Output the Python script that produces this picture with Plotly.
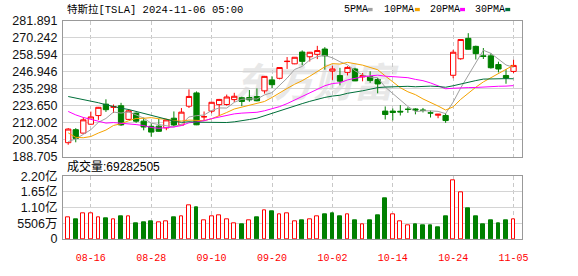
import plotly.graph_objects as go
import pandas as pd

# ---------------- data ----------------
dates = ["08-13", "08-14", "08-15", "08-16", "08-19", "08-20", "08-21", "08-22", "08-23",
         "08-26", "08-27", "08-28", "08-29", "08-30",
         "09-03", "09-04", "09-05", "09-06", "09-09", "09-10", "09-11", "09-12", "09-13",
         "09-16", "09-17", "09-18", "09-19", "09-20", "09-23", "09-24", "09-25", "09-26",
         "09-27", "09-30",
         "10-01", "10-02", "10-03", "10-04", "10-07", "10-08", "10-09", "10-10", "10-11",
         "10-14", "10-15", "10-16", "10-17", "10-18", "10-21", "10-22", "10-23", "10-24",
         "10-25", "10-28", "10-29", "10-30", "10-31",
         "11-01", "11-04", "11-05"]

opens = [198.47, 207.39, 205.02, 211.15, 217.07, 224.88, 222.67, 223.82, 214.46,
         218.75, 213.25, 209.72, 209.80, 208.63,
         215.26, 210.59, 223.49, 232.60, 216.20, 220.07, 224.55, 224.66, 228.00,
         229.30, 229.45, 230.09, 234.00, 241.52, 242.61, 254.08, 252.54, 260.60,
         257.38, 259.04,
         262.67, 247.55, 244.48, 246.69, 249.00, 243.56, 243.82, 241.81, 220.13,
         220.13, 220.01, 221.40, 221.59, 220.71, 218.90, 217.31, 217.13, 244.68,
         256.01, 270.00, 264.51, 258.04, 257.99,
         252.04, 244.56, 247.34]

highs = [208.49, 208.44, 215.88, 219.80, 222.98, 228.22, 224.66, 225.79, 221.48,
         219.09, 215.66, 211.84, 214.89, 214.57,
         219.90, 222.22, 235.00, 233.60, 219.87, 226.40, 228.47, 231.45, 232.67,
         229.96, 234.57, 235.68, 244.24, 243.99, 250.00, 257.19, 257.05, 261.75,
         260.70, 264.86,
         263.98, 251.16, 249.79, 250.96, 249.83, 246.21, 247.43, 242.79, 223.34,
         221.91, 224.26, 222.82, 222.08, 222.28, 220.48, 218.22, 218.72, 262.12,
         269.49, 273.54, 264.98, 263.35, 259.75,
         254.00, 248.90, 255.28]

lows = [197.06, 198.75, 204.82, 210.80, 214.09, 219.56, 218.86, 210.02, 214.21,
        212.11, 206.94, 202.59, 205.97, 207.03,
        209.64, 210.57, 222.25, 210.51, 213.67, 218.64, 216.80, 223.83, 226.32,
        223.53, 226.55, 226.88, 232.13, 235.92, 241.92, 249.05, 252.28, 251.53,
        254.12, 255.77,
        248.53, 241.50, 237.81, 244.58, 240.70, 240.56, 239.51, 232.34, 214.38,
        213.74, 217.12, 218.93, 217.90, 219.23, 215.73, 215.26, 212.11, 242.65,
        255.32, 262.24, 255.51, 255.82, 249.25,
        246.63, 238.88, 246.21]

closes = [207.83, 201.38, 214.14, 216.12, 222.72, 221.10, 223.27, 210.66, 220.32,
          213.21, 209.21, 205.75, 206.28, 214.11,
          210.60, 219.41, 230.17, 210.73, 216.27, 226.17, 228.13, 229.81, 230.29,
          226.78, 227.87, 227.20, 243.92, 238.25, 250.00, 254.27, 257.02, 254.22,
          260.46, 261.63,
          258.02, 249.02, 240.66, 250.08, 240.83, 244.50, 241.05, 238.77, 217.80,
          219.16, 219.57, 221.33, 220.89, 220.70, 218.85, 217.97, 213.65, 260.48,
          269.19, 262.51, 259.52, 257.55, 249.85,
          248.98, 242.84, 251.44]

# closes of the 29 sessions before 08-13 (needed for the moving averages)
prior_closes = [231.26, 246.39, 251.52, 252.94, 262.33, 263.26, 241.03, 248.23, 252.64,
                256.56, 248.50, 249.23, 239.20, 251.51, 246.38, 215.99, 220.25, 219.80,
                232.10, 222.62, 232.07, 216.86, 207.67, 198.88, 200.64, 191.76, 198.84,
                200.00, 197.49]

volumes = [76e6, 69e6, 89e6, 89e6, 76e6, 73e6, 69e6, 79e6, 79e6,
           56e6, 60e6, 63e6, 59e6, 63e6,
           76e6, 79e6, 118e6, 112e6, 66e6, 79e6, 82e6, 69e6, 55e6,
           53e6, 66e6, 76e6, 102e6, 99e6, 86e6, 89e6, 63e6, 66e6,
           69e6, 79e6,
           86e6, 92e6, 79e6, 86e6, 66e6, 53e6, 66e6, 82e6, 144e6,
           86e6, 62e6, 47e6, 50e6, 47e6, 47e6, 40e6, 79e6, 206e6,
           165e6, 108e6, 79e6, 53e6, 66e6,
           56e6, 66e6, 69282505]

tick_labels = ["08-16", "08-28", "09-10", "09-20", "10-02", "10-14", "10-24", "11-05"]
price_ticks = [188.705, 200.354, 212.002, 223.650, 235.298, 246.946, 258.594, 270.242, 281.891]
price_tick_text = ["188.705", "200.354", "212.002", "223.650", "235.298", "246.946",
                   "258.594", "270.242", "281.891"]
vol_ticks = [0, 55.06e6, 110.12e6, 165.18e6, 220.24e6]
vol_tick_text = ["0", "5506万", "1.10亿", "1.65亿", "2.20亿"]

ma_periods = [5, 10, 20, 30]
ma_names = ["5PMA", "10PMA", "20PMA", "30PMA"]
ma_colors = ["#a0a0a0", "#f5a300", "#ff00ff", "#006f3a"]

title_text = "特斯拉[TSLA] 2024-11-06 05:00"
vol_title = "成交量:69282505"

# ---------------- build ----------------
n = len(dates)
xs = list(range(n))
all_closes = pd.Series(prior_closes + closes)

RED = "#ff0000"
GREEN = "#008000"
GRID = "#d4d4d4"
BORDER = "#999999"

fig = go.Figure()

fig.add_trace(go.Candlestick(
    x=xs, open=opens, high=highs, low=lows, close=closes,
    xaxis="x2", yaxis="y",
    increasing=dict(line=dict(color=RED, width=1), fillcolor="#ffffff"),
    decreasing=dict(line=dict(color=GREEN, width=1), fillcolor=GREEN),
    whiskerwidth=0, showlegend=False, hoverinfo="skip",
))

for p, name, col in zip(ma_periods, ma_names, ma_colors):
    ma = all_closes.rolling(p).mean().iloc[-n:].tolist()
    fig.add_trace(go.Scatter(x=xs, y=ma, mode="lines", name=name,
                             line=dict(color=col, width=1), xaxis="x2", yaxis="y",
                             showlegend=False, hoverinfo="skip"))

prev = [prior_closes[-1]] + closes[:-1]
up = [c >= pc for c, pc in zip(closes, prev)]
fig.add_trace(go.Bar(
    x=xs, y=volumes, xaxis="x", yaxis="y2", width=0.5,
    marker=dict(color=["#ffffff" if u else GREEN for u in up],
                line=dict(color=[RED if u else GREEN for u in up], width=1)),
    showlegend=False, hoverinfo="skip",
))

W, H = 578, 276
ML, MR, MT, MB = 55, 56, 21, 22
PW, PH = W - ML - MR, H - MT - MB


def px(x):
    return (x - ML) / PW


def py(y):
    return (H - MB - y) / PH


tick_idx = [dates.index(t) for t in tick_labels]
xrange = [-0.69, 60.12]

common_x = dict(range=xrange, tickvals=tick_idx, showgrid=True, gridcolor="#c8c8c8",
                griddash="4px,3px", gridwidth=1, zeroline=False, showline=True,
                linecolor=BORDER, linewidth=1, mirror=True, ticks="",
                rangeslider=dict(visible=False), fixedrange=True)

fig.update_layout(
    width=W, height=H,
    margin=dict(l=ML, r=MR, t=MT, b=MB),
    paper_bgcolor="#ffffff", plot_bgcolor="#ffffff",
    boxgap=0.3, boxgroupgap=0,
    bargap=0,
    xaxis=dict(**common_x, anchor="y2", ticktext=tick_labels,
               tickfont=dict(family="Liberation Mono", size=10, color=RED),
               ticklabelstandoff=9),
    xaxis2=dict(**common_x, anchor="y", matches="x", showticklabels=False),
    yaxis=dict(domain=[py(166.3), 1], range=[price_ticks[0], price_ticks[-1]],
               tickvals=price_ticks, ticktext=price_tick_text,
               showgrid=True, gridcolor=GRID, gridwidth=1, zeroline=False,
               showline=True, linecolor=BORDER, linewidth=1, mirror=True, ticks="",
               tickfont=dict(family="Liberation Sans, Noto Sans CJK SC", size=12.5, color="#111111"),
               ticklabelstandoff=2, anchor="x2", fixedrange=True),
    yaxis2=dict(domain=[0, py(187)], range=[0, vol_ticks[-1]],
                tickvals=vol_ticks, ticktext=vol_tick_text,
                showgrid=True, gridcolor=GRID, gridwidth=1, zeroline=False,
                showline=True, linecolor=BORDER, linewidth=1, mirror=True, ticks="",
                tickfont=dict(family="Liberation Sans, Noto Sans CJK SC", size=12.5, color="#111111"),
                ticklabelstandoff=2, anchor="x", fixedrange=True),
)

annotations = [
    dict(text=title_text, x=px(57), y=py(9), xref="paper", yref="paper",
         xanchor="left", yanchor="middle", showarrow=False,
         font=dict(family="Liberation Mono, Noto Sans CJK SC", size=10.5, color="#000000")),
    dict(text=vol_title, x=px(57), y=py(177), xref="paper", yref="paper",
         xanchor="left", yanchor="middle", showarrow=False,
         font=dict(family="Liberation Sans, Noto Sans CJK SC", size=12, color="#000000")),
]

shapes = [
    # faint watermark behind the price panel
    dict(type="rect", xref="paper", yref="paper", x0=px(230), x1=px(390), y0=py(110), y1=py(71),
         line=dict(width=0), fillcolor="rgba(0,0,0,0)", layer="below",
         label=dict(text="<b><i>东方财富</i></b>",
                    font=dict(family="Noto Sans CJK SC", size=40, color="#e8e8e8"),
                    textposition="middle center")),
]

legend_pos = [(339, 365), (380, 413), (426, 459), (472, 505)]
for (tx, sx), name, col in zip(legend_pos, ma_names, ma_colors):
    annotations.append(dict(text=name, x=px(tx), y=py(9), xref="paper", yref="paper",
                            xanchor="left", yanchor="middle", showarrow=False,
                            font=dict(family="Liberation Mono", size=10, color="#000000")))
    shapes.append(dict(type="rect", xref="paper", yref="paper",
                       x0=px(sx), x1=px(sx + 5), y0=py(10.5), y1=py(7),
                       line=dict(width=0), fillcolor=col))

fig.update_layout(annotations=annotations, shapes=shapes)

fig.write_html("out.html")
